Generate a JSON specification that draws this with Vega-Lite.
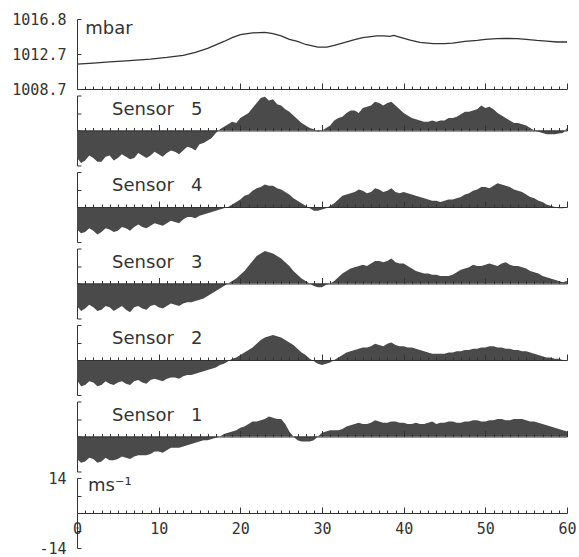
{
  "$schema": "https://vega.github.io/schema/vega-lite/v6.json",
  "padding": {"left": 5, "top": 12, "right": 5, "bottom": 0},
  "spacing": 6.5,
  "bounds": "flush",
  "config": {
    "view": {"stroke": null},
    "axis": {"grid": false, "domainColor": "#333", "tickColor": "#333", "labelColor": "#333", "labelFont": "DejaVu Sans Mono", "labelFontSize": 15, "domainWidth": 1, "tickWidth": 1, "labelOverlap": false, "tickCount": 100}
  },
  "datasets": {
    "p": [
      {"t": 0, "mbar": 1011.57}, {"t": 2, "mbar": 1011.7}, {"t": 4, "mbar": 1011.84}, {"t": 6, "mbar": 1011.95},
      {"t": 9, "mbar": 1012.15}, {"t": 11, "mbar": 1012.35}, {"t": 13, "mbar": 1012.6}, {"t": 14.5, "mbar": 1012.95},
      {"t": 16, "mbar": 1013.4}, {"t": 17, "mbar": 1013.8}, {"t": 18, "mbar": 1014.2}, {"t": 19, "mbar": 1014.65},
      {"t": 20, "mbar": 1015.0}, {"t": 21.5, "mbar": 1015.2}, {"t": 23, "mbar": 1015.25}, {"t": 24, "mbar": 1015.1},
      {"t": 25, "mbar": 1014.85}, {"t": 26, "mbar": 1014.45}, {"t": 27, "mbar": 1014.2}, {"t": 28, "mbar": 1013.85},
      {"t": 29.5, "mbar": 1013.55}, {"t": 30.6, "mbar": 1013.55}, {"t": 31.5, "mbar": 1013.75}, {"t": 32.6, "mbar": 1014.05},
      {"t": 34, "mbar": 1014.4}, {"t": 35, "mbar": 1014.65}, {"t": 36.7, "mbar": 1014.85}, {"t": 37.5, "mbar": 1014.85},
      {"t": 38.3, "mbar": 1014.8}, {"t": 38.8, "mbar": 1014.9}, {"t": 39.5, "mbar": 1014.7}, {"t": 40.8, "mbar": 1014.35},
      {"t": 42, "mbar": 1014.1}, {"t": 43.6, "mbar": 1013.95}, {"t": 45, "mbar": 1013.95}, {"t": 46, "mbar": 1014.02},
      {"t": 47.5, "mbar": 1014.2}, {"t": 49, "mbar": 1014.33}, {"t": 50, "mbar": 1014.45}, {"t": 51.4, "mbar": 1014.53},
      {"t": 52.5, "mbar": 1014.55}, {"t": 53.9, "mbar": 1014.53}, {"t": 55, "mbar": 1014.45}, {"t": 56.3, "mbar": 1014.33},
      {"t": 57.5, "mbar": 1014.25}, {"t": 58.8, "mbar": 1014.14}, {"t": 60, "mbar": 1014.14}
    ],
    "w": [
      {"t": 0, "S1": -9, "S2": -8, "S3": -9, "S4": -9, "S5": -11},
      {"t": 0.5, "S1": -10.5, "S2": -10.5, "S3": -11, "S4": -10.5, "S5": -13},
      {"t": 1, "S1": -10, "S2": -10, "S3": -10, "S4": -10, "S5": -12},
      {"t": 1.5, "S1": -8.5, "S2": -8.5, "S3": -8.5, "S4": -8.5, "S5": -10},
      {"t": 2, "S1": -9, "S2": -9, "S3": -9.5, "S4": -9.5, "S5": -11},
      {"t": 2.5, "S1": -10.5, "S2": -10.5, "S3": -11, "S4": -11, "S5": -12.5},
      {"t": 3, "S1": -10, "S2": -10, "S3": -10.5, "S4": -10, "S5": -12.5},
      {"t": 3.5, "S1": -8.5, "S2": -8.5, "S3": -9, "S4": -8.5, "S5": -10.5},
      {"t": 4, "S1": -9.5, "S2": -9.5, "S3": -9.5, "S4": -9, "S5": -10},
      {"t": 4.5, "S1": -9.5, "S2": -10, "S3": -11, "S4": -10, "S5": -12},
      {"t": 5, "S1": -9, "S2": -9, "S3": -10, "S4": -9.5, "S5": -11},
      {"t": 5.5, "S1": -8, "S2": -8.5, "S3": -9, "S4": -8, "S5": -9.5},
      {"t": 6, "S1": -8.5, "S2": -9.5, "S3": -10.5, "S4": -8.5, "S5": -10.5},
      {"t": 6.5, "S1": -9, "S2": -10, "S3": -11.5, "S4": -9.5, "S5": -11.5},
      {"t": 7, "S1": -8, "S2": -8.5, "S3": -9.5, "S4": -8, "S5": -11},
      {"t": 7.5, "S1": -7.5, "S2": -8, "S3": -9, "S4": -7, "S5": -9},
      {"t": 8, "S1": -7.5, "S2": -9, "S3": -10, "S4": -8, "S5": -10},
      {"t": 8.5, "S1": -7.5, "S2": -9.5, "S3": -10.5, "S4": -8.5, "S5": -11},
      {"t": 9, "S1": -7, "S2": -8, "S3": -9, "S4": -7.5, "S5": -10},
      {"t": 9.5, "S1": -6, "S2": -7.5, "S3": -8.5, "S4": -6.5, "S5": -8.5},
      {"t": 10, "S1": -6, "S2": -8, "S3": -9.5, "S4": -7, "S5": -9.5},
      {"t": 10.5, "S1": -6.5, "S2": -8.5, "S3": -10, "S4": -7.5, "S5": -10.5},
      {"t": 11, "S1": -5.5, "S2": -7.5, "S3": -9, "S4": -6.5, "S5": -9},
      {"t": 11.5, "S1": -4.5, "S2": -7, "S3": -8, "S4": -5.5, "S5": -8},
      {"t": 12, "S1": -4.5, "S2": -7, "S3": -8.5, "S4": -6, "S5": -8.5},
      {"t": 12.5, "S1": -4.5, "S2": -7.5, "S3": -9, "S4": -6.5, "S5": -9.5},
      {"t": 13, "S1": -4, "S2": -6.5, "S3": -8, "S4": -5, "S5": -8},
      {"t": 13.5, "S1": -3.5, "S2": -6, "S3": -7.5, "S4": -4, "S5": -6.5},
      {"t": 14, "S1": -3, "S2": -6, "S3": -7.5, "S4": -4, "S5": -7},
      {"t": 14.5, "S1": -2.5, "S2": -5.5, "S3": -7, "S4": -4.5, "S5": -8},
      {"t": 15, "S1": -2, "S2": -5, "S3": -6.5, "S4": -3.5, "S5": -5.5},
      {"t": 15.5, "S1": -1.5, "S2": -4.5, "S3": -6, "S4": -3, "S5": -5},
      {"t": 16, "S1": -1.5, "S2": -4, "S3": -5, "S4": -2.5, "S5": -4},
      {"t": 16.5, "S1": -1, "S2": -3.5, "S3": -4, "S4": -2, "S5": -3},
      {"t": 17, "S1": -0.5, "S2": -3, "S3": -3, "S4": -1.5, "S5": -1},
      {"t": 17.5, "S1": 0, "S2": -2, "S3": -2, "S4": -1, "S5": 0.5},
      {"t": 18, "S1": 1, "S2": -1.5, "S3": -1, "S4": -0.5, "S5": 1.5},
      {"t": 18.5, "S1": 1.5, "S2": -0.5, "S3": 0, "S4": 0, "S5": 2.5},
      {"t": 19, "S1": 2, "S2": 0.5, "S3": 1, "S4": 1, "S5": 3.5},
      {"t": 19.5, "S1": 2.5, "S2": 1, "S3": 2, "S4": 2, "S5": 3},
      {"t": 20, "S1": 3.5, "S2": 2, "S3": 3.5, "S4": 3, "S5": 5},
      {"t": 20.5, "S1": 4, "S2": 3, "S3": 5, "S4": 4.5, "S5": 6},
      {"t": 21, "S1": 5, "S2": 4, "S3": 7, "S4": 5, "S5": 7},
      {"t": 21.5, "S1": 6, "S2": 5, "S3": 9, "S4": 6.5, "S5": 9},
      {"t": 22, "S1": 6, "S2": 6.5, "S3": 11, "S4": 7.5, "S5": 11},
      {"t": 22.5, "S1": 6.5, "S2": 8, "S3": 12, "S4": 8, "S5": 13},
      {"t": 23, "S1": 7, "S2": 9, "S3": 13, "S4": 9, "S5": 13.5},
      {"t": 23.5, "S1": 8, "S2": 9.5, "S3": 12.5, "S4": 8.5, "S5": 12},
      {"t": 24, "S1": 7.5, "S2": 10, "S3": 12, "S4": 8.5, "S5": 12.5},
      {"t": 24.5, "S1": 7, "S2": 9.5, "S3": 11, "S4": 7.5, "S5": 10.5},
      {"t": 25, "S1": 7, "S2": 9, "S3": 10, "S4": 7, "S5": 10},
      {"t": 25.5, "S1": 5, "S2": 8, "S3": 8.5, "S4": 6, "S5": 8.5},
      {"t": 26, "S1": 2, "S2": 7, "S3": 7, "S4": 5, "S5": 7.5},
      {"t": 26.5, "S1": 0, "S2": 6, "S3": 5, "S4": 3.5, "S5": 6},
      {"t": 27, "S1": -1.5, "S2": 4.5, "S3": 3.5, "S4": 2.5, "S5": 4.5},
      {"t": 27.5, "S1": -2, "S2": 3, "S3": 2, "S4": 1.5, "S5": 3},
      {"t": 28, "S1": -2, "S2": 2, "S3": 1, "S4": 0.5, "S5": 2},
      {"t": 28.5, "S1": -2, "S2": 0.5, "S3": 0, "S4": -0.5, "S5": 1},
      {"t": 29, "S1": -1.5, "S2": -0.5, "S3": -1, "S4": -1.5, "S5": 0.5},
      {"t": 29.5, "S1": 0, "S2": -1.5, "S3": -1.5, "S4": -1.5, "S5": -0.5},
      {"t": 30, "S1": 1.5, "S2": -2, "S3": -1.5, "S4": -1, "S5": 0},
      {"t": 30.5, "S1": 2, "S2": -1.5, "S3": -0.5, "S4": -0.5, "S5": 1},
      {"t": 31, "S1": 2.5, "S2": -1, "S3": 0, "S4": 0.5, "S5": 2},
      {"t": 31.5, "S1": 2.5, "S2": 0, "S3": 1, "S4": 1.5, "S5": 4},
      {"t": 32, "S1": 2.5, "S2": 1, "S3": 2.5, "S4": 3, "S5": 5},
      {"t": 32.5, "S1": 3, "S2": 2, "S3": 4, "S4": 4.5, "S5": 5.5},
      {"t": 33, "S1": 4, "S2": 3, "S3": 5, "S4": 5, "S5": 7},
      {"t": 33.5, "S1": 4.5, "S2": 3.5, "S3": 6, "S4": 5.5, "S5": 8},
      {"t": 34, "S1": 5, "S2": 4, "S3": 6.5, "S4": 6, "S5": 8},
      {"t": 34.5, "S1": 5.5, "S2": 4.5, "S3": 7, "S4": 7, "S5": 7},
      {"t": 35, "S1": 5, "S2": 5, "S3": 7.5, "S4": 6.5, "S5": 9},
      {"t": 35.5, "S1": 5, "S2": 5, "S3": 7, "S4": 5.5, "S5": 9.5},
      {"t": 36, "S1": 5.5, "S2": 5.5, "S3": 8, "S4": 6, "S5": 10},
      {"t": 36.5, "S1": 6.5, "S2": 6.5, "S3": 9, "S4": 7.5, "S5": 11.5},
      {"t": 37, "S1": 6, "S2": 6, "S3": 9, "S4": 7, "S5": 11},
      {"t": 37.5, "S1": 5.5, "S2": 5.5, "S3": 8.5, "S4": 6, "S5": 10},
      {"t": 38, "S1": 5.5, "S2": 6.5, "S3": 9, "S4": 6.5, "S5": 11},
      {"t": 38.5, "S1": 6, "S2": 7, "S3": 10, "S4": 7.5, "S5": 11.5},
      {"t": 39, "S1": 6, "S2": 6, "S3": 8.5, "S4": 6, "S5": 10},
      {"t": 39.5, "S1": 5.5, "S2": 5.5, "S3": 8, "S4": 5.5, "S5": 8.5},
      {"t": 40, "S1": 5.5, "S2": 5.5, "S3": 8, "S4": 6, "S5": 7},
      {"t": 40.5, "S1": 5, "S2": 5, "S3": 7, "S4": 5.5, "S5": 6},
      {"t": 41, "S1": 5, "S2": 5, "S3": 6, "S4": 5, "S5": 5},
      {"t": 41.5, "S1": 5.5, "S2": 4.5, "S3": 5, "S4": 4.5, "S5": 4.5},
      {"t": 42, "S1": 5, "S2": 4, "S3": 4.5, "S4": 4, "S5": 4},
      {"t": 42.5, "S1": 5, "S2": 3.5, "S3": 4, "S4": 3.5, "S5": 3.5},
      {"t": 43, "S1": 5.5, "S2": 3, "S3": 4, "S4": 3, "S5": 3.5},
      {"t": 43.5, "S1": 6, "S2": 2.5, "S3": 3.5, "S4": 2.5, "S5": 4},
      {"t": 44, "S1": 5, "S2": 2.5, "S3": 3.5, "S4": 2.5, "S5": 3.5},
      {"t": 44.5, "S1": 5.5, "S2": 2.5, "S3": 3, "S4": 2, "S5": 4},
      {"t": 45, "S1": 5.5, "S2": 2.5, "S3": 3, "S4": 2.5, "S5": 4},
      {"t": 45.5, "S1": 6, "S2": 3, "S3": 3, "S4": 3, "S5": 5},
      {"t": 46, "S1": 6, "S2": 3, "S3": 3.5, "S4": 3, "S5": 5},
      {"t": 46.5, "S1": 5.5, "S2": 3.5, "S3": 4.5, "S4": 3.5, "S5": 5.5},
      {"t": 47, "S1": 5.5, "S2": 3.5, "S3": 5.5, "S4": 4, "S5": 6.5},
      {"t": 47.5, "S1": 6, "S2": 4, "S3": 6, "S4": 5, "S5": 7.5},
      {"t": 48, "S1": 6, "S2": 4, "S3": 6.5, "S4": 5.5, "S5": 7.5},
      {"t": 48.5, "S1": 6.5, "S2": 4.5, "S3": 7.5, "S4": 6.5, "S5": 8},
      {"t": 49, "S1": 6.5, "S2": 4.5, "S3": 7, "S4": 7, "S5": 8.5},
      {"t": 49.5, "S1": 6, "S2": 5, "S3": 7, "S4": 8, "S5": 10},
      {"t": 50, "S1": 6, "S2": 5, "S3": 7.5, "S4": 8, "S5": 9},
      {"t": 50.5, "S1": 6.5, "S2": 5.5, "S3": 8, "S4": 7.5, "S5": 9.5},
      {"t": 51, "S1": 6.5, "S2": 5.5, "S3": 7.5, "S4": 8.5, "S5": 8.5},
      {"t": 51.5, "S1": 7, "S2": 5, "S3": 7, "S4": 9.5, "S5": 7},
      {"t": 52, "S1": 7, "S2": 5, "S3": 8, "S4": 9, "S5": 6},
      {"t": 52.5, "S1": 6.5, "S2": 4.5, "S3": 8.5, "S4": 8.5, "S5": 5},
      {"t": 53, "S1": 6.5, "S2": 4.5, "S3": 7.5, "S4": 8, "S5": 4},
      {"t": 53.5, "S1": 7, "S2": 4, "S3": 7, "S4": 7, "S5": 3},
      {"t": 54, "S1": 7, "S2": 4, "S3": 7, "S4": 6.5, "S5": 3},
      {"t": 54.5, "S1": 7, "S2": 3.5, "S3": 6.5, "S4": 6, "S5": 2.5},
      {"t": 55, "S1": 6.5, "S2": 3.5, "S3": 6, "S4": 5, "S5": 2},
      {"t": 55.5, "S1": 6, "S2": 3, "S3": 5, "S4": 4, "S5": 1},
      {"t": 56, "S1": 6, "S2": 2.5, "S3": 4.5, "S4": 3.5, "S5": 0},
      {"t": 56.5, "S1": 5.5, "S2": 2, "S3": 4, "S4": 2.5, "S5": -0.5},
      {"t": 57, "S1": 5, "S2": 1.5, "S3": 3, "S4": 2, "S5": -1},
      {"t": 57.5, "S1": 4.5, "S2": 1, "S3": 2.5, "S4": 1, "S5": -1.5},
      {"t": 58, "S1": 4, "S2": 1, "S3": 2, "S4": 0.5, "S5": -1.5},
      {"t": 58.5, "S1": 3.5, "S2": 0.5, "S3": 1.5, "S4": 0, "S5": -1.5},
      {"t": 59, "S1": 3, "S2": 0.5, "S3": 1, "S4": -0.5, "S5": -1.2},
      {"t": 59.5, "S1": 2.5, "S2": 0, "S3": 0.5, "S4": -0.5, "S5": -1},
      {"t": 60, "S1": 2, "S2": 0, "S3": 1, "S4": 0, "S5": 1}
    ]
  },
  "vconcat": [
    {
      "width": 490, "height": 70,
      "layer": [
        {
          "data": {"name": "p"},
          "mark": {"type": "line", "color": "#333", "strokeWidth": 1.3},
          "encoding": {
            "x": {"field": "t", "type": "quantitative", "scale": {"domain": [0, 60], "nice": false, "zero": false},
              "axis": {"orient": "bottom", "title": null, "labels": false, "tickCount": 100, "values": [0,1,2,3,4,5,6,7,8,9,10,11,12,13,14,15,16,17,18,19,20,21,22,23,24,25,26,27,28,29,30,31,32,33,34,35,36,37,38,39,40,41,42,43,44,45,46,47,48,49,50,51,52,53,54,55,56,57,58,59,60],
                "tickSize": {"condition": {"test": "datum.value % 10 === 0", "value": -6}, "value": -3}}},
            "y": {"field": "mbar", "type": "quantitative", "scale": {"domain": [1008.7, 1016.8], "nice": false, "zero": false},
              "axis": {"title": null, "values": [1008.7, 1012.7, 1016.8], "tickCount": 100, "labelFlush": false, "format": ".1f", "tickSize": -4, "labelPadding": 15, "minExtent": 72, "maxExtent": 72}}
          }
        },
        {
          "data": {"values": [{}]},
          "mark": {"type": "text", "font": "DejaVu Sans", "fontSize": 18, "align": "left", "baseline": "alphabetic", "color": "#333"},
          "encoding": {"x": {"datum": 1.0, "type": "quantitative"}, "y": {"datum": 1015.1, "type": "quantitative"}, "text": {"value": "mbar"}}
        }
      ]
    },
    {
      "width": 490, "height": 70,
      "layer": [
        {
          "data": {"name": "w"},
          "mark": {"type": "area", "color": "#4a4a4a", "interpolate": "linear"},
          "encoding": {
            "x": {"field": "t", "type": "quantitative", "scale": {"domain": [0, 60], "nice": false, "zero": false},
              "axis": {"orient": "bottom", "offset": -35, "zindex": 1, "title": null, "labels": false, "tickCount": 100, "values": [0,1,2,3,4,5,6,7,8,9,10,11,12,13,14,15,16,17,18,19,20,21,22,23,24,25,26,27,28,29,30,31,32,33,34,35,36,37,38,39,40,41,42,43,44,45,46,47,48,49,50,51,52,53,54,55,56,57,58,59,60],
                "tickSize": {"condition": {"test": "datum.value % 10 === 0", "value": -6}, "value": -3}}},
            "y": {"field": "S5", "type": "quantitative", "scale": {"domain": [-14, 14], "nice": false},
              "axis": {"title": null, "labels": false, "tickCount": 100, "values": [-14, -7, 0, 7, 14], "tickSize": -4, "minExtent": 72, "maxExtent": 72}},
            "y2": {"datum": 0}
          }
        },
        {
          "data": {"values": [{}]},
          "mark": {"type": "text", "font": "DejaVu Sans", "fontSize": 18, "align": "left", "baseline": "alphabetic", "color": "#333"},
          "encoding": {"x": {"datum": 4.3, "type": "quantitative"}, "y": {"datum": 6.4, "type": "quantitative"}, "text": {"value": "Sensor\u00a0\u00a0\u00a05"}}
        }
      ]
    },
    {
      "width": 490, "height": 70,
      "layer": [
        {
          "data": {"name": "w"},
          "mark": {"type": "area", "color": "#4a4a4a", "interpolate": "linear"},
          "encoding": {
            "x": {"field": "t", "type": "quantitative", "scale": {"domain": [0, 60], "nice": false, "zero": false},
              "axis": {"orient": "bottom", "offset": -35, "zindex": 1, "title": null, "labels": false, "tickCount": 100, "values": [0,1,2,3,4,5,6,7,8,9,10,11,12,13,14,15,16,17,18,19,20,21,22,23,24,25,26,27,28,29,30,31,32,33,34,35,36,37,38,39,40,41,42,43,44,45,46,47,48,49,50,51,52,53,54,55,56,57,58,59,60],
                "tickSize": {"condition": {"test": "datum.value % 10 === 0", "value": -6}, "value": -3}}},
            "y": {"field": "S4", "type": "quantitative", "scale": {"domain": [-14, 14], "nice": false},
              "axis": {"title": null, "labels": false, "tickCount": 100, "values": [-14, -7, 0, 7, 14], "tickSize": -4, "minExtent": 72, "maxExtent": 72}},
            "y2": {"datum": 0}
          }
        },
        {
          "data": {"values": [{}]},
          "mark": {"type": "text", "font": "DejaVu Sans", "fontSize": 18, "align": "left", "baseline": "alphabetic", "color": "#333"},
          "encoding": {"x": {"datum": 4.3, "type": "quantitative"}, "y": {"datum": 6.4, "type": "quantitative"}, "text": {"value": "Sensor\u00a0\u00a0\u00a04"}}
        }
      ]
    },
    {
      "width": 490, "height": 70,
      "layer": [
        {
          "data": {"name": "w"},
          "mark": {"type": "area", "color": "#4a4a4a", "interpolate": "linear"},
          "encoding": {
            "x": {"field": "t", "type": "quantitative", "scale": {"domain": [0, 60], "nice": false, "zero": false},
              "axis": {"orient": "bottom", "offset": -35, "zindex": 1, "title": null, "labels": false, "tickCount": 100, "values": [0,1,2,3,4,5,6,7,8,9,10,11,12,13,14,15,16,17,18,19,20,21,22,23,24,25,26,27,28,29,30,31,32,33,34,35,36,37,38,39,40,41,42,43,44,45,46,47,48,49,50,51,52,53,54,55,56,57,58,59,60],
                "tickSize": {"condition": {"test": "datum.value % 10 === 0", "value": -6}, "value": -3}}},
            "y": {"field": "S3", "type": "quantitative", "scale": {"domain": [-14, 14], "nice": false},
              "axis": {"title": null, "labels": false, "tickCount": 100, "values": [-14, -7, 0, 7, 14], "tickSize": -4, "minExtent": 72, "maxExtent": 72}},
            "y2": {"datum": 0}
          }
        },
        {
          "data": {"values": [{}]},
          "mark": {"type": "text", "font": "DejaVu Sans", "fontSize": 18, "align": "left", "baseline": "alphabetic", "color": "#333"},
          "encoding": {"x": {"datum": 4.3, "type": "quantitative"}, "y": {"datum": 6.4, "type": "quantitative"}, "text": {"value": "Sensor\u00a0\u00a0\u00a03"}}
        }
      ]
    },
    {
      "width": 490, "height": 70,
      "layer": [
        {
          "data": {"name": "w"},
          "mark": {"type": "area", "color": "#4a4a4a", "interpolate": "linear"},
          "encoding": {
            "x": {"field": "t", "type": "quantitative", "scale": {"domain": [0, 60], "nice": false, "zero": false},
              "axis": {"orient": "bottom", "offset": -35, "zindex": 1, "title": null, "labels": false, "tickCount": 100, "values": [0,1,2,3,4,5,6,7,8,9,10,11,12,13,14,15,16,17,18,19,20,21,22,23,24,25,26,27,28,29,30,31,32,33,34,35,36,37,38,39,40,41,42,43,44,45,46,47,48,49,50,51,52,53,54,55,56,57,58,59,60],
                "tickSize": {"condition": {"test": "datum.value % 10 === 0", "value": -6}, "value": -3}}},
            "y": {"field": "S2", "type": "quantitative", "scale": {"domain": [-14, 14], "nice": false},
              "axis": {"title": null, "labels": false, "tickCount": 100, "values": [-14, -7, 0, 7, 14], "tickSize": -4, "minExtent": 72, "maxExtent": 72}},
            "y2": {"datum": 0}
          }
        },
        {
          "data": {"values": [{}]},
          "mark": {"type": "text", "font": "DejaVu Sans", "fontSize": 18, "align": "left", "baseline": "alphabetic", "color": "#333"},
          "encoding": {"x": {"datum": 4.3, "type": "quantitative"}, "y": {"datum": 6.4, "type": "quantitative"}, "text": {"value": "Sensor\u00a0\u00a0\u00a02"}}
        }
      ]
    },
    {
      "width": 490, "height": 70,
      "layer": [
        {
          "data": {"name": "w"},
          "mark": {"type": "area", "color": "#4a4a4a", "interpolate": "linear"},
          "encoding": {
            "x": {"field": "t", "type": "quantitative", "scale": {"domain": [0, 60], "nice": false, "zero": false},
              "axis": {"orient": "bottom", "offset": -35, "zindex": 1, "title": null, "labels": false, "tickCount": 100, "values": [0,1,2,3,4,5,6,7,8,9,10,11,12,13,14,15,16,17,18,19,20,21,22,23,24,25,26,27,28,29,30,31,32,33,34,35,36,37,38,39,40,41,42,43,44,45,46,47,48,49,50,51,52,53,54,55,56,57,58,59,60],
                "tickSize": {"condition": {"test": "datum.value % 10 === 0", "value": -6}, "value": -3}}},
            "y": {"field": "S1", "type": "quantitative", "scale": {"domain": [-14, 14], "nice": false},
              "axis": {"title": null, "labels": false, "tickCount": 100, "values": [-14, -7, 0, 7, 14], "tickSize": -4, "minExtent": 72, "maxExtent": 72}},
            "y2": {"datum": 0}
          }
        },
        {
          "data": {"values": [{}]},
          "mark": {"type": "text", "font": "DejaVu Sans", "fontSize": 18, "align": "left", "baseline": "alphabetic", "color": "#333"},
          "encoding": {"x": {"datum": 4.3, "type": "quantitative"}, "y": {"datum": 6.4, "type": "quantitative"}, "text": {"value": "Sensor\u00a0\u00a0\u00a01"}}
        }
      ]
    },
    {
      "width": 490, "height": 70,
      "data": {"values": [{}]},
      "mark": {"type": "text", "font": "DejaVu Sans", "fontSize": 18, "align": "left", "baseline": "alphabetic", "color": "#333"},
      "encoding": {
        "x": {"datum": 1.35, "type": "quantitative", "scale": {"domain": [0, 60], "nice": false, "zero": false},
          "axis": {"orient": "bottom", "offset": -35, "title": null, "labelFlush": false, "labelPadding": 14, "tickCount": 100, "format": "d", "values": [0,1,2,3,4,5,6,7,8,9,10,11,12,13,14,15,16,17,18,19,20,21,22,23,24,25,26,27,28,29,30,31,32,33,34,35,36,37,38,39,40,41,42,43,44,45,46,47,48,49,50,51,52,53,54,55,56,57,58,59,60],
            "labelExpr": "datum.value % 10 === 0 ? format(datum.value, 'd') : ''",
            "tickSize": {"condition": {"test": "datum.value % 10 === 0", "value": -6}, "value": -3}}},
        "y": {"datum": 8.8, "type": "quantitative", "scale": {"domain": [-14, 14], "nice": false},
          "axis": {"title": null, "values": [-14, -7, 0, 7, 14], "tickCount": 100, "tickSize": -4, "labelPadding": 15, "minExtent": 72, "maxExtent": 72,
            "labelExpr": "datum.value == 14 ? '14' : datum.value == -14 ? '-14' : ''"}},
        "text": {"value": "ms⁻¹"}
      }
    }
  ]
}
